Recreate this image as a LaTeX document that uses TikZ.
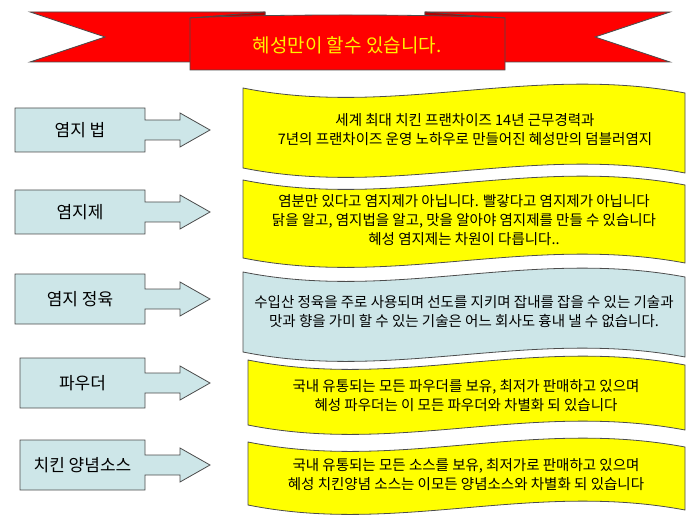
\documentclass[tikz,border=0pt]{standalone}
\usepackage{fontspec}
\newfontfamily\kr{Noto Sans CJK KR}
\usetikzlibrary{positioning}
\definecolor{boxblue}{RGB}{205,230,232}
\definecolor{wavey}{RGB}{255,255,0}
\tikzset{
  lab/.style={font=\kr\fontsize{17}{19}\selectfont, inner sep=0pt},
  txt/.style={font=\kr\fontsize{14.5}{19}\selectfont, align=center, inner sep=0pt},
  shp/.style={draw=black!70, line width=0.8pt}
}
\begin{document}
\begin{tikzpicture}[x=1pt,y=-1pt]
\useasboundingbox (0,0) rectangle (700,526);
% banner
\draw [shp,fill=red] (30,12) -- (265,12) -- (265,62) -- (30,62) -- (105,37) -- cycle;
\draw [shp,fill=red] (670,12) -- (425,12) -- (425,62) -- (670,62) -- (595,37) -- cycle;
\draw [shp,fill=red!70!black] (190,18) -- (265,12) -- (265,22) -- cycle;
\draw [shp,fill=red!70!black] (505,18) -- (425,12) -- (425,22) -- cycle;
\draw [shp,fill=red] (190,18) .. controls (260,14) and (430,14) .. (505,18) -- (505,70) -- (190,70) -- cycle;
\node [lab,text=yellow,font=\kr\fontsize{19}{21}\selectfont] (title) at (347,45) {혜성만이 할수 있습니다.};
% left callouts
\foreach \x/\y/\h/\name/\t in {15/130/22/a/염지 법, 15/212/22/b/염지제, 15/299/25/c/염지 정육, 20/383/25/d/파우더, 20/465/25/e/치킨 양념소스}{
  \draw [shp,fill=boxblue] (\x,\y-\h) -- (145,\y-\h) -- (145,\y-10) -- (180,\y-10) -- (180,\y-17)
    -- (210,\y) -- (180,\y+17) -- (180,\y+10) -- (145,\y+10) -- (145,\y+\h) -- (\x,\y+\h) -- cycle;
  \node [lab] (\name) at ({(\x+145)/2},\y) {\t};
}
% waves
\foreach \x/\t/\b/\c in {243/88/168/wavey, 243/180/258/wavey, 243/272/352/boxblue, 248/360/425/wavey, 248/442/505/wavey}{
  \draw [shp,fill=\c] (\x,\t) .. controls (\x+150,\t+30) and (530,\t-24) .. (685,\t+5)
    -- (685,\b+5) .. controls (530,\b-24) and (\x+150,\b+30) .. (\x,\b) -- cycle;
}
\node [txt] (wa) at (465,130) {세계 최대 치킨 프랜차이즈 14년 근무경력과\\7년의 프랜차이즈 운영 노하우로 만들어진 혜성만의 덤블러염지};
\node [txt] (wb) at (464,220) {염분만 있다고 염지제가 아닙니다. 빨갛다고 염지제가 아닙니다\\닭을 알고, 염지법을 알고, 맛을 알아야 염지제를 만들 수 있습니다\\혜성 염지제는 차원이 다릅니다..};
\node [txt] (wc) at (464,312) {수입산 정육을 주로 사용되며 선도를 지키며 잡내를 잡을 수 있는 기술과\\맛과 향을 가미 할 수 있는 기술은 어느 회사도  흉내 낼 수 없습니다.};
\node [txt] (wd) at (466,396) {국내 유통되는 모든 파우더를 보유, 최저가 판매하고 있으며\\혜성 파우더는 이 모든 파우더와 차별화 되 있습니다};
\node [txt] (we) at (466,475) {국내 유통되는 모든 소스를 보유, 최저가로 판매하고 있으며\\혜성 치킨양념 소스는 이모든 양념소스와 차별화 되 있습니다};
\end{tikzpicture}
\end{document}
